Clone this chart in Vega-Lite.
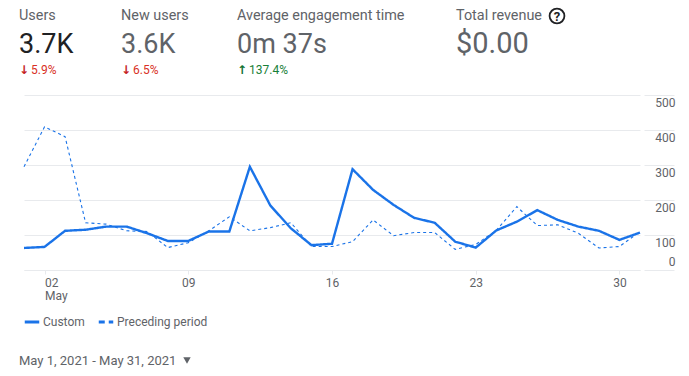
{
"$schema":"https://vega.github.io/schema/vega-lite/v6.json",
"width":616,"height":175,
"autosize":{"type":"none"},
"padding":{"left":24,"top":95,"right":49,"bottom":106},
"background":"white",
"config":{"view":{"stroke":null},"text":{"font":"Roboto"}},
"resolve":{"scale":{"strokeDash":"independent"}},
"datasets":{"series":[
{"date":"2021-05-01","series":"Preceding period","users":295},{"date":"2021-05-02","series":"Preceding period","users":409},{"date":"2021-05-03","series":"Preceding period","users":381},{"date":"2021-05-04","series":"Preceding period","users":135},{"date":"2021-05-05","series":"Preceding period","users":131},{"date":"2021-05-06","series":"Preceding period","users":112},{"date":"2021-05-07","series":"Preceding period","users":110},{"date":"2021-05-08","series":"Preceding period","users":64},{"date":"2021-05-09","series":"Preceding period","users":78},{"date":"2021-05-10","series":"Preceding period","users":112},{"date":"2021-05-11","series":"Preceding period","users":152},{"date":"2021-05-12","series":"Preceding period","users":112},{"date":"2021-05-13","series":"Preceding period","users":121},{"date":"2021-05-14","series":"Preceding period","users":135},{"date":"2021-05-15","series":"Preceding period","users":67},{"date":"2021-05-16","series":"Preceding period","users":67},{"date":"2021-05-17","series":"Preceding period","users":81},{"date":"2021-05-18","series":"Preceding period","users":143},{"date":"2021-05-19","series":"Preceding period","users":98},{"date":"2021-05-20","series":"Preceding period","users":107},{"date":"2021-05-21","series":"Preceding period","users":107},{"date":"2021-05-22","series":"Preceding period","users":59},{"date":"2021-05-23","series":"Preceding period","users":73},{"date":"2021-05-24","series":"Preceding period","users":113},{"date":"2021-05-25","series":"Preceding period","users":181},{"date":"2021-05-26","series":"Preceding period","users":127},{"date":"2021-05-27","series":"Preceding period","users":129},{"date":"2021-05-28","series":"Preceding period","users":105},{"date":"2021-05-29","series":"Preceding period","users":63},{"date":"2021-05-30","series":"Preceding period","users":67},{"date":"2021-05-31","series":"Preceding period","users":110},
{"date":"2021-05-01","series":"Custom","users":63},{"date":"2021-05-02","series":"Custom","users":66},{"date":"2021-05-03","series":"Custom","users":112},{"date":"2021-05-04","series":"Custom","users":115},{"date":"2021-05-05","series":"Custom","users":124},{"date":"2021-05-06","series":"Custom","users":124},{"date":"2021-05-07","series":"Custom","users":105},{"date":"2021-05-08","series":"Custom","users":83},{"date":"2021-05-09","series":"Custom","users":83},{"date":"2021-05-10","series":"Custom","users":110},{"date":"2021-05-11","series":"Custom","users":110},{"date":"2021-05-12","series":"Custom","users":295},{"date":"2021-05-13","series":"Custom","users":184},{"date":"2021-05-14","series":"Custom","users":119},{"date":"2021-05-15","series":"Custom","users":71},{"date":"2021-05-16","series":"Custom","users":75},{"date":"2021-05-17","series":"Custom","users":288},{"date":"2021-05-18","series":"Custom","users":229},{"date":"2021-05-19","series":"Custom","users":186},{"date":"2021-05-20","series":"Custom","users":149},{"date":"2021-05-21","series":"Custom","users":135},{"date":"2021-05-22","series":"Custom","users":81},{"date":"2021-05-23","series":"Custom","users":64},{"date":"2021-05-24","series":"Custom","users":113},{"date":"2021-05-25","series":"Custom","users":138},{"date":"2021-05-26","series":"Custom","users":171},{"date":"2021-05-27","series":"Custom","users":143},{"date":"2021-05-28","series":"Custom","users":124},{"date":"2021-05-29","series":"Custom","users":112},{"date":"2021-05-30","series":"Custom","users":86},{"date":"2021-05-31","series":"Custom","users":107}
]},
"layer":[
{"data":{"name":"series"},
"mark":{"type":"line","clip":false,"strokeJoin":"miter","strokeCap":"butt"},
"encoding":{
"x":{"field":"date","type":"temporal","title":null,
"scale":{"type":"utc","domain":[{"year":2021,"month":5,"date":1,"utc":true},{"year":2021,"month":5,"date":31,"utc":true}]},
"axis":{"grid":false,"domain":true,"domainColor":"#e8eaed","tickColor":"#e8eaed","tickSize":4,"labelFont":"Roboto","labelFontSize":12,"labelColor":"#5f6368","labelPadding":3,"labelLineHeight":13,"labelOverlap":false,"labelFlush":false,
"values":[{"year":2021,"month":5,"date":2,"utc":true},{"year":2021,"month":5,"date":9,"utc":true},{"year":2021,"month":5,"date":16,"utc":true},{"year":2021,"month":5,"date":23,"utc":true},{"year":2021,"month":5,"date":30,"utc":true}],
"labelExpr":"utcdate(datum.value)==2?['02','May']:utcFormat(datum.value,'%d')",
"encoding":{"labels":{"align":{"value":{"signal":"utcdate(datum.value)==2?'left':'center'"}}}}}},
"y":{"field":"users","type":"quantitative","title":null,
"scale":{"domain":[0,500],"nice":false},
"axis":{"orient":"right","values":[0,100,200,300,400,500],"grid":true,"gridColor":"#e8eaed","domain":false,"tickColor":"#e8eaed","tickSize":34,"labelPadding":1,"labelAlign":"right","labelFont":"Roboto","labelFontSize":12,"labelColor":"#5f6368","labelBaseline":"middle",
"encoding":{"ticks":{"x":{"value":4}},"labels":{"dy":{"value":{"signal":"datum.value==0?-9:7"}}}}}},
"strokeDash":{"field":"series","type":"nominal","title":null,"legend":null,
"scale":{"domain":["Custom","Preceding period"],"range":[[1,0],[3,3]]}},
"strokeWidth":{"field":"series","type":"nominal","legend":null,"scale":{"domain":["Custom","Preceding period"],"range":[2.4,1.1]}},
"color":{"value":"#1a73e8"}
}},
{"data":{"name":"series"},"transform":[{"filter":"false"}],
"mark":{"type":"line","strokeWidth":3,"color":"#1a73e8"},
"encoding":{
"strokeDash":{"field":"series","type":"nominal","title":null,
"scale":{"domain":["Custom","Preceding period"],"range":[[1,0],[6,4]]},
"legend":{"orient":"none","legendX":-1,"legendY":218,"direction":"horizontal","columns":2,"title":null,"labelFont":"Roboto","labelFontSize":12,"labelColor":"#5f6368","symbolType":"stroke","symbolSize":210,"symbolStrokeColor":"#1a73e8","symbolStrokeWidth":3,"columnPadding":7,"labelOffset":2}}
}},
{"data":{"values":[{"t":"Users"}]},"mark":{"type":"text","align":"left","x":-5,"y":-75,"baseline":"alphabetic","fontSize":14.4,"color":"#5f6368"},"encoding":{"text":{"field":"t"}}},
{"data":{"values":[{"t":"New users"}]},"mark":{"type":"text","align":"left","x":97,"y":-75,"baseline":"alphabetic","fontSize":14.4,"color":"#5f6368"},"encoding":{"text":{"field":"t"}}},
{"data":{"values":[{"t":"Average engagement time"}]},"mark":{"type":"text","align":"left","x":213,"y":-75,"baseline":"alphabetic","fontSize":14.4,"color":"#5f6368"},"encoding":{"text":{"field":"t"}}},
{"data":{"values":[{"t":"Total revenue"}]},"mark":{"type":"text","align":"left","x":432,"y":-75,"baseline":"alphabetic","fontSize":14.4,"color":"#5f6368"},"encoding":{"text":{"field":"t"}}},
{"data":{"values":[{"t":"3.7K"}]},"mark":{"type":"text","align":"left","x":-5,"y":-42,"baseline":"alphabetic","fontSize":27,"color":"#202124"},"encoding":{"text":{"field":"t"}}},
{"data":{"values":[{"t":"3.6K"}]},"mark":{"type":"text","align":"left","x":97,"y":-42,"baseline":"alphabetic","fontSize":27,"color":"#5f6368"},"encoding":{"text":{"field":"t"}}},
{"data":{"values":[{"t":"0m 37s"}]},"mark":{"type":"text","align":"left","x":213,"y":-42,"baseline":"alphabetic","fontSize":27,"color":"#5f6368"},"encoding":{"text":{"field":"t"}}},
{"data":{"values":[{"t":"$0.00"}]},"mark":{"type":"text","align":"left","x":432,"y":-42,"baseline":"alphabetic","fontSize":29,"color":"#5f6368"},"encoding":{"text":{"field":"t"}}},
{"data":{"values":[{"t":"↓"}]},"mark":{"type":"text","align":"left","x":-5,"y":-21,"baseline":"alphabetic","fontSize":12,"font":"DejaVu Sans","fontWeight":"bold","color":"#c5221f"},"encoding":{"text":{"field":"t"}}},
{"data":{"values":[{"t":"5.9%"}]},"mark":{"type":"text","align":"left","x":7,"y":-21,"baseline":"alphabetic","fontSize":12,"color":"#d93025"},"encoding":{"text":{"field":"t"}}},
{"data":{"values":[{"t":"↓"}]},"mark":{"type":"text","align":"left","x":97,"y":-21,"baseline":"alphabetic","fontSize":12,"font":"DejaVu Sans","fontWeight":"bold","color":"#c5221f"},"encoding":{"text":{"field":"t"}}},
{"data":{"values":[{"t":"6.5%"}]},"mark":{"type":"text","align":"left","x":109,"y":-21,"baseline":"alphabetic","fontSize":12,"color":"#d93025"},"encoding":{"text":{"field":"t"}}},
{"data":{"values":[{"t":"↑"}]},"mark":{"type":"text","align":"left","x":213,"y":-21,"baseline":"alphabetic","fontSize":12,"font":"DejaVu Sans","fontWeight":"bold","color":"#137333"},"encoding":{"text":{"field":"t"}}},
{"data":{"values":[{"t":"137.4%"}]},"mark":{"type":"text","align":"left","x":225,"y":-21,"baseline":"alphabetic","fontSize":12,"color":"#188038"},"encoding":{"text":{"field":"t"}}},
{"data":{"values":[{"t":"?"}]},"mark":{"type":"point","x":533,"y":-79,"size":220,"shape":"circle","filled":false,"stroke":"#202124","strokeWidth":1.8,"opacity":1}},
{"data":{"values":[{"t":"?"}]},"mark":{"type":"text","align":"center","x":533,"y":-74,"baseline":"alphabetic","fontSize":13,"fontWeight":"bold","color":"#202124"},"encoding":{"text":{"field":"t"}}},
{"data":{"values":[{"t":"May 1, 2021 - May 31, 2021"}]},"mark":{"type":"text","align":"left","x":-5,"y":270,"baseline":"alphabetic","fontSize":13,"color":"#5f6368"},"encoding":{"text":{"field":"t"}}},
{"data":{"values":[{"t":"menu"}]},"mark":{"type":"point","x":163,"y":265.5,"size":55,"shape":"triangle-down","filled":true,"color":"#5f6368","opacity":1}}
]
}
